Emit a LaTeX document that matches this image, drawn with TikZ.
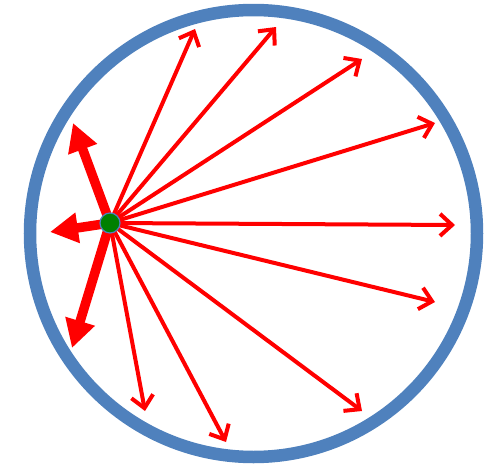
\documentclass[tikz,border=0pt]{standalone}
\usetikzlibrary{arrows.meta,positioning,backgrounds}
\definecolor{rimblue}{RGB}{79,129,189}
\definecolor{dotgreen}{RGB}{0,128,0}
\begin{document}
\begin{tikzpicture}[x=1pt, y=-1pt,
    % --- Shape styles ---
    rim/.style={draw=rimblue, line width=12.5pt},
    source/.style={circle, draw=rimblue, fill=dotgreen, line width=1.2pt,
                   minimum size=20pt, inner sep=0pt},
    % --- Arrow styles ---
    ray/.style={draw=red, line width=4pt, line cap=round,
                -{Straight Barb[length=12pt, width=22pt]}},
    push/.style={draw=red, line width=9.5pt,
                 -{Triangle[length=28pt, width=29pt]}},
]
\useasboundingbox (0,0) rectangle (490,474);

% === The boundary ===
\draw[rim] (253.5,233.5) circle (223.5);

% === The source point ===
\node[source] (src) at (110,223) {};

% === Ray ends ===
\coordinate (r1) at (195,29);
\coordinate (r2) at (276,27);
\coordinate (r3) at (362,59);
\coordinate (r4) at (435,123);
\coordinate (r5) at (455,225);
\coordinate (r6) at (435,302);
\coordinate (r7) at (362,411);
\coordinate (r8) at (226,442);
\coordinate (r9) at (145,411);

% === Push ends ===
\coordinate (pu) at (73,123);
\coordinate (pl) at (50,232);
\coordinate (pd) at (72,348);

\begin{scope}[on background layer]
% rays leaving the source
\draw[ray] (src.center) -- (r1);
\draw[ray] (src.center) -- (r2);
\draw[ray] (src.center) -- (r3);
\draw[ray] (src.center) -- (r4);
\draw[ray] (src.center) -- (r5);
\draw[ray] (src.center) -- (r6);
\draw[ray] (src.center) -- (r7);
\draw[ray] (src.center) -- (r8);
\draw[ray] (src.center) -- (r9);

% heavy arrows towards the wall
\draw[push] (src.center) -- (pu);
\draw[push] (src.center) -- (pl);
\draw[push] (src.center) -- (pd);
\end{scope}

\end{tikzpicture}
\end{document}
